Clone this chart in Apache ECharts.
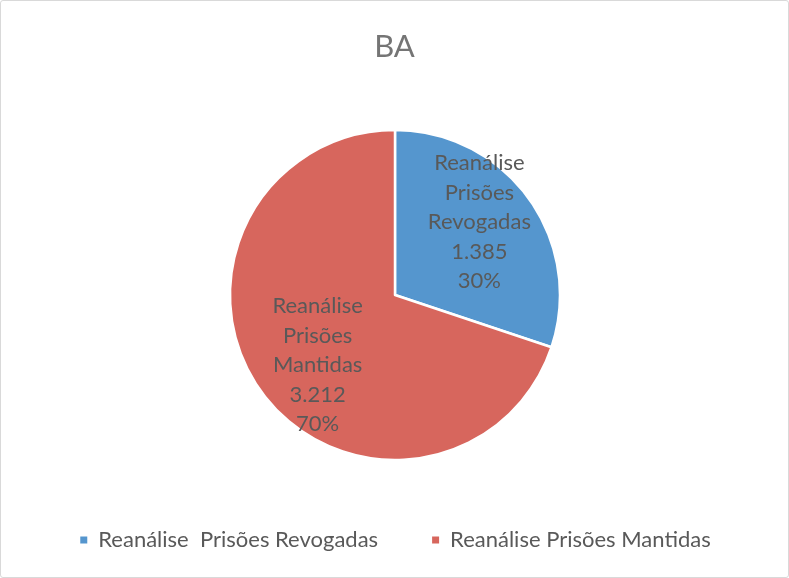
<!DOCTYPE html>
<html><head><meta charset="utf-8">
<script src="https://cdn.jsdelivr.net/npm/echarts@6/dist/echarts.min.js"></script>
<style>
html,body{margin:0;padding:0;background:#fff;}
#c{width:789px;height:578px;box-sizing:border-box;border:1.5px solid #d9d9d9;border-radius:3px;}
</style></head>
<body><div id="c"></div>
<script>
const title = 'BA';
const categories = ['Reanálise  Prisões Revogadas', 'Reanálise Prisões Mantidas'];
const values = [1385, 3212];
const colors = ['#5596CE', '#D7665D'];
const labelOffsets = [[15, -23], [-8, 20]];

const chart = echarts.init(document.getElementById('c'));
const FONT = 'Lato';
function fmtNum(v){ return String(v).replace(/\B(?=(\d{3})+(?!\d))/g, '.'); }
chart.setOption({
  animation: false,
  title: {
    text: title, left: 'center', top: 25,
    textStyle: {fontFamily: FONT, fontSize: 31, fontWeight: 'normal', color: '#757575'}
  },
  legend: {
    bottom: 21, left: 'center', itemGap: 52,
    icon: 'rect', itemWidth: 9, itemHeight: 9,
    textStyle: {fontFamily: FONT, fontSize: 22, color: '#595959', padding: [0, 0, 0, 5]},
    data: categories
  },
  series: [{
    type: 'pie',
    center: [394, 294],
    radius: [0, 165],
    startAngle: 90,
    clockwise: true,
    itemStyle: {borderColor: '#fff', borderWidth: 2.5},
    label: {
      position: 'inside',
      fontFamily: FONT, fontSize: 22, color: '#595959', lineHeight: 29.5,
      formatter: p => p.name.split(/\s+/).join('\n') + '\n' + fmtNum(p.value) + '\n' + Math.round(p.percent) + '%'
    },
    labelLine: {show: false},
    data: categories.map((n, i) => ({
      name: n, value: values[i],
      itemStyle: {color: colors[i]},
      label: {offset: labelOffsets[i]}
    }))
  }]
});
</script></body></html>
